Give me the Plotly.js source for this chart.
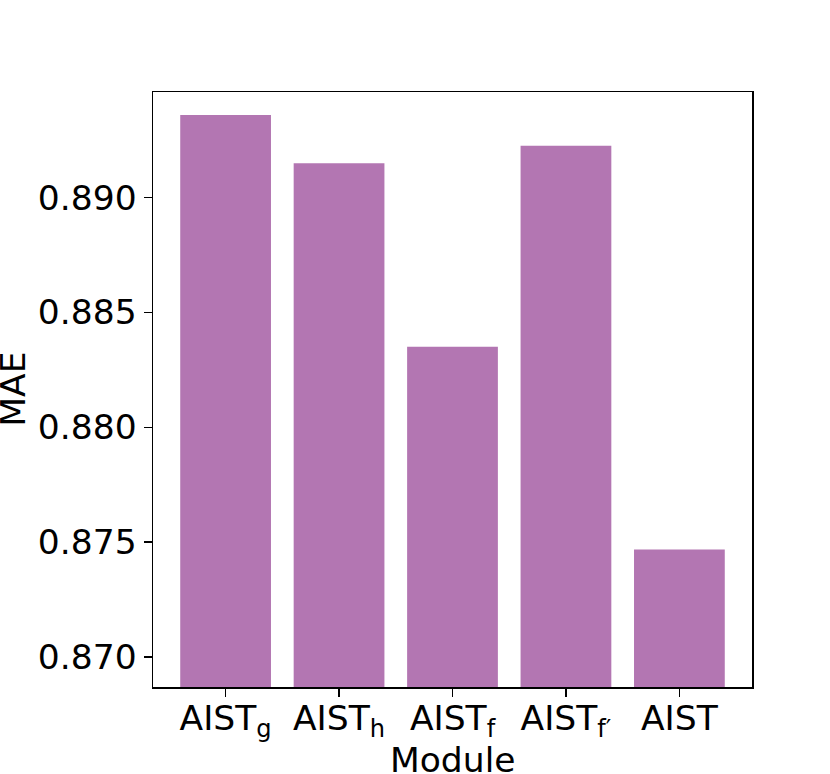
<!DOCTYPE html>
<html>
<head>
<meta charset="utf-8">
<script src="https://cdn.plot.ly/plotly-3.0.1.min.js"></script>
<style>html,body{margin:0;padding:0;background:#fff;}#chart{width:830px;height:774px;}</style>
</head>
<body>
<div id="chart"></div>
<script>
const categories = ["AIST<sub>g</sub>", "AIST<sub>h</sub>", "AIST<sub>f</sub>", "AIST<sub>f′</sub>", "AIST"];
const maeValues = [0.89359, 0.89149, 0.88350, 0.89226, 0.87468];
const yTickVals = [0.870, 0.875, 0.880, 0.885, 0.890];
const yTickText = ["0.870", "0.875", "0.880", "0.885", "0.890"];
const xTitle = "Module";
const yTitle = "MAE";

const FONT = "DejaVu Sans, sans-serif";
const FS = 34.5;

const trace = {
  type: "bar",
  x: categories.map((c, i) => i),
  y: maeValues,
  width: 0.8,
  marker: { color: "#b376b2", line: { width: 0 } },
  hoverinfo: "skip"
};

const layout = {
  width: 830,
  height: 774,
  margin: { l: 153, r: 77.7, t: 92, b: 87.3, pad: 0 },
  paper_bgcolor: "#ffffff",
  plot_bgcolor: "#ffffff",
  showlegend: false,
  font: { family: FONT, size: FS, color: "#000000" },
  xaxis: {
    range: [-0.64, 4.64],
    tickmode: "array",
    tickvals: categories.map((c, i) => i),
    ticktext: categories,
    ticks: "outside",
    ticklen: 8,
    tickwidth: 1.5,
    tickcolor: "#000",
    ticklabelstandoff: -8,
    showline: true,
    linecolor: "#000",
    linewidth: 1.5,
    mirror: true,
    showgrid: false,
    zeroline: false,
    tickfont: { family: FONT, size: FS, color: "#000" },
    fixedrange: true
  },
  yaxis: {
    range: [0.868693, 0.894595],
    tickmode: "array",
    tickvals: yTickVals,
    ticktext: yTickText,
    ticks: "outside",
    ticklen: 8,
    tickwidth: 1.5,
    tickcolor: "#000",
    showline: true,
    linecolor: "#000",
    linewidth: 1.5,
    mirror: true,
    showgrid: false,
    zeroline: false,
    tickfont: { family: FONT, size: FS, color: "#000" },
    fixedrange: true
  },
  annotations: [
    {
      text: xTitle, xref: "paper", yref: "paper",
      x: 0.5, y: -0.086, xanchor: "center", yanchor: "top",
      showarrow: false, font: { family: FONT, size: FS, color: "#000" }
    },
    {
      text: yTitle, xref: "paper", yref: "paper",
      x: -0.235, y: 0.5, xanchor: "center", yanchor: "middle",
      textangle: -90,
      showarrow: false, font: { family: FONT, size: FS, color: "#000" }
    }
  ]
};

Plotly.newPlot("chart", [trace], layout, { displayModeBar: false, staticPlot: true });
</script>
</body>
</html>
